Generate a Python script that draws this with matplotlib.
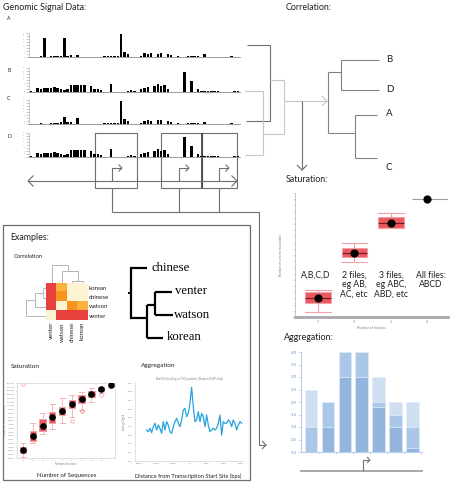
import numpy as np
import matplotlib
matplotlib.use('Agg')
import matplotlib.pyplot as plt
from matplotlib.colors import ListedColormap

W, H = 450, 482
plt.rcParams['font.family'] = ['Lato', 'DejaVu Sans']

# ---------------- data ----------------
track_labels = ['A', 'B', 'C', 'D']
track_a = [0, 0, 0, 1.5, 19, 0, 1, 1, 1.5, 1.5, 19, 1.5, 2, 0, 2.5, 0, 0, 0, 0, 0,
           0, 0, 1.5, 1.5, 1.5, 1.5, 1.5, 23, 5, 3, 0, 0, 0, 1, 4, 3, 4.5, 0, 3.5, 4,
           0, 3, 2, 0, 1, 0, 0, 1.5, 1.5, 1.5, 1.5, 0, 3.5, 0, 0, 0, 0, 0, 0, 0,
           1.5, 0, 0]
track_b = [1.5, 0, 4, 3, 4, 4, 4, 5, 4, 3, 2, 3, 7, 7, 7, 7, 7, 0, 6, 3,
           3, 2, 0, 0, 8, 0, 0, 0, 0, 1, 2, 1, 0, 3, 4, 5, 0, 6, 8, 6,
           7, 3, 0, 0, 0, 0, 20, 0, 11, 0, 3, 1.5, 1.5, 1.5, 1.5, 1.5, 1.5, 0, 0, 0,
           0, 1, 1]
track_c = [0, 0, 0, 1.5, 0, 0, 1, 1.5, 1.5, 2, 7, 2, 2, 0, 6, 0, 0, 0, 0, 0,
           0, 0, 1.5, 1.5, 1.5, 1.5, 1.5, 23, 5, 3, 0, 0, 0, 1, 3, 4, 3, 0, 4, 3.5,
           0, 3, 2, 0, 1, 0, 0, 1.5, 1.5, 1.5, 1.5, 0, 2.5, 0, 0, 0, 0, 0, 0, 0,
           1.5, 0, 0]
track_d = [1.5, 0, 4, 3, 4, 4, 4, 5, 4, 3, 2, 3, 7, 7, 7, 7, 7, 0, 6, 3,
           3, 2, 0, 0, 8, 0, 0, 0, 0, 1, 2, 1, 0, 3, 4, 5, 0, 6, 8, 6,
           7, 3, 0, 0, 0, 0, 20, 0, 11, 0, 3, 1.5, 1.5, 1.5, 1.5, 1.5, 1.5, 0, 0, 0,
           0, 1, 1]

dendro_labels = ['B', 'D', 'A', 'C']

# saturation (files)
sat_pos = [1, 2, 3, 4]
sat_whislo = [4, 44, 72, 95]
sat_q1 = [11, 48, 72, 95]
sat_med = [15, 52, 76, 95]
sat_q3 = [20, 56, 81, 95]
sat_whishi = [22, 60, 84, 95]
sat_labels = ['A,B,C,D', '2 files,\neg AB,\nAC, etc', '3 files,\neg ABC,\nABD, etc', 'All files:\nABCD']

# aggregation (bars)
agg_light = [2.5, 2.0, 4.0, 4.0, 3.0, 2.0, 2.0]
agg_mid = [1.0, 2.0, 4.0, 4.0, 2.0, 1.5, 1.0]
agg_dark = [0.0, 1.0, 3.0, 3.0, 1.8, 1.0, 0.15]
agg_yticks = [0.0, 0.5, 1.0, 1.5, 2.0, 2.5, 3.0, 3.5, 4.0]

# example correlation heatmap
hm_rows = ['korean', 'chinese', 'watson', 'venter']
hm_cols = ['venter', 'watson', 'chinese', 'korean']
hm_vals = [[3, 1, 0, 0],
           [3, 2, 0, 0],
           [3, 0, 2, 1],
           [0, 3, 3, 3]]
tree_labels = ['chinese', 'venter', 'watson', 'korean']

# example saturation (sequences)
ex_pos = [1, 2, 3, 4, 5, 6, 7, 8, 9, 10]
ex_whislo = [1, 20, 32, 39, 47, 55, 64, 75, 87, 97]
ex_q1 = [7, 23, 36, 47, 57, 67, 73, 81, 89, 97]
ex_med = [11, 29, 43, 55, 63, 72, 79, 85, 92, 97]
ex_q3 = [15, 36, 52, 61, 68, 77, 84, 89, 95, 97]
ex_whishi = [20, 47, 60, 72, 80, 84, 88, 93, 95, 97]
ex_fliers = [[99], [], [], [], [], [50], [63, 63], [], [84], []]

# example aggregation line
agg_line_start, agg_line_step = -5100, 196
agg_line = [0.0358, 0.0338, 0.0377, 0.0327, 0.0396, 0.0435, 0.0358, 0.0415, 0.0377, 0.0319,
            0.0454, 0.0358, 0.0454, 0.0415, 0.0338, 0.0319, 0.0396, 0.0454, 0.0492, 0.0435,
            0.0396, 0.0473, 0.0588, 0.0608, 0.0512, 0.0550, 0.0665, 0.0850, 0.0627, 0.0454,
            0.0473, 0.0569, 0.0454, 0.0550, 0.0512, 0.0396, 0.0531, 0.0415, 0.0338, 0.0358,
            0.0377, 0.0358, 0.0377, 0.0435, 0.0531, 0.0300, 0.0454, 0.0435, 0.0435, 0.0473,
            0.0454, 0.0396, 0.0473, 0.0435, 0.0358, 0.0415, 0.0454, 0.0435]

# ---------------- drawing ----------------
DK = '#6d6e71'
LT = '#c4c6c8'
TXT = '#231f20'

fig = plt.figure(figsize=(W / 100, H / 100), dpi=100)
ov = fig.add_axes([0, 0, 1, 1], zorder=0)
ov.set_xlim(0, W)
ov.set_ylim(H, 0)
ov.axis('off')


def fbox(x0, y0, x1, y1):
    return [x0 / W, 1 - y1 / H, (x1 - x0) / W, (y1 - y0) / H]


def line(xs, ys, c=DK, lw=0.8, z=2):
    ov.plot(xs, ys, color=c, lw=lw, solid_capstyle='butt', solid_joinstyle='miter', zorder=z)


def chev(x, y, d, s=4, c=DK, lw=0.8):
    if d == 'r':
        xs, ys = [x - s, x, x - s], [y - s, y, y + s]
    elif d == 'l':
        xs, ys = [x + s, x, x + s], [y - s, y, y + s]
    else:
        xs, ys = [x - s, x, x + s], [y - s, y, y - s]
    line(xs, ys, c, lw)


def txt(x, y, s, size=6.4, ha='left', va='center', color=TXT, **kw):
    ov.text(x, y, s, fontsize=size, ha=ha, va=va, color=color, **kw)


# titles
txt(3, 8, 'Genomic Signal Data:')
txt(286, 8, 'Correlation:')
txt(286, 180, 'Saturation:')
txt(284, 337, 'Aggregation:')

# tracks
track_rows = [(33, 57), (68, 92), (100, 124), (133, 157)]
label_y = [19, 71, 98, 136]
for vals, (t, b), ly, name in zip([track_a, track_b, track_c, track_d], track_rows, label_y, track_labels):
    ax = fig.add_axes(fbox(29, t, 240, b))
    ax.patch.set_alpha(0)
    ax.bar(np.arange(len(vals)), vals, width=0.75, color='black')
    ax.set_xlim(-0.6, len(vals) - 0.4)
    ax.set_ylim(0, 24)
    for s in ['top', 'right']:
        ax.spines[s].set_visible(False)
    ax.spines['bottom'].set_color('#8a8c8e')
    ax.spines['bottom'].set_linewidth(0.6)
    ax.spines['left'].set_color('#9d9fa2')
    ax.spines['left'].set_linewidth(0.4)
    ax.set_xticks([])
    ax.set_yticks(np.arange(0, 25, 3))
    ax.tick_params(axis='y', length=2, width=0.4, color='#9d9fa2', labelsize=1.4,
                   labelcolor='#9d9fa2', pad=0.5)
    txt(7, ly, name, size=3.6)

# boxes around TSS regions
line([95, 137, 137, 95, 95], [133, 133, 188, 188, 133])
line([161, 202, 202, 161, 161], [133, 133, 188, 188, 133])
line([202, 237, 237, 202], [133, 133, 188, 188])
line([202, 202], [133, 188], c='#414042', lw=1.2)
# chromosome line
line([28, 237], [181, 181])
chev(28, 181, 'l', s=5.5)
chev(237, 181, 'r', s=5.5)
for x in [112, 179, 219]:
    line([x, x, x + 9], [181, 168, 168])
    chev(x + 10, 168, 'r', s=3.5)
    line([x, x], [188, 212])
line([112, 259, 259, 259], [212, 212, 212, 445])
line([259, 266], [445, 445])
chev(266, 445, 'r', s=4)

# dendrogram (clustering) between tracks
line([247, 270, 270, 246], [45, 45, 121, 121], c=DK)
line([245, 263, 263, 245], [91, 91, 155, 155], c=LT)
line([270, 284], [80, 80], c=LT)
line([263, 284], [134, 134], c=LT)
line([284, 284], [80, 134], c=LT)
line([284, 327], [101, 101], c=LT)
chev(327, 101, 'r', s=5, c=LT)
line([302, 302], [101, 170], c=DK)
chev(302, 170, 'd', s=5, c=DK)

# resulting tree
TC = '#808285'
line([328, 328], [72, 133], c=TC)
line([328, 341], [72, 72], c=TC)
line([341, 341], [60, 90], c=TC)
line([341, 379], [60, 60], c=TC)
line([341, 379], [90, 90], c=TC)
line([328, 355], [133, 133], c=TC)
line([355, 355], [115, 158], c=TC)
line([355, 377], [115, 115], c=TC)
line([355, 377], [158, 158], c=TC)
for lab, y in zip(dendro_labels, [60, 89, 114, 167]):
    txt(386, y, lab, size=7)

# saturation chart (top right)
ax = fig.add_axes(fbox(295, 193, 448, 317))
ax.patch.set_alpha(0)
stats = [dict(whislo=sat_whislo[i], q1=sat_q1[i], med=sat_med[i], q3=sat_q3[i],
              whishi=sat_whishi[i]) for i in range(3)]
bw = [0.74, 0.69, 0.72]
ax.bxp(stats, positions=sat_pos[:3], widths=bw, capwidths=bw, patch_artist=True,
       showfliers=False,
       boxprops=dict(facecolor='#e9585d', edgecolor='#f3a3a7', lw=0.8),
       whiskerprops=dict(color='#f3a3a7', lw=0.8),
       capprops=dict(color='#f3a3a7', lw=0.8),
       medianprops=dict(color='#6e1a1d', lw=0.8))
ax.hlines(sat_med[3], sat_pos[3] - 0.4, sat_pos[3] + 0.62, color='#9d9fa2', lw=0.8)
ax.scatter(sat_pos, sat_med, s=24, color='black', zorder=5)
ax.set_xlim(0.367, 4.58)
ax.set_ylim(0, 100)
for s in ['top', 'right']:
    ax.spines[s].set_visible(False)
ax.spines['bottom'].set_color('#a7a9ac')
ax.spines['bottom'].set_linewidth(2)
ax.spines['left'].set_color('#bcbec0')
ax.spines['left'].set_linewidth(0.6)
ax.set_xticks(sat_pos)
ax.set_xticklabels([str(p) for p in sat_pos])
ax.set_yticks(np.arange(0, 101, 5))
ax.set_yticklabels([])
ax.tick_params(axis='x', length=0, labelsize=2.4, labelcolor='#808285', pad=2)
ax.tick_params(axis='y', length=1.5, width=0.4, color='#bcbec0')
ax.set_xlabel('Number of features', fontsize=2.4, color='#808285', labelpad=1.5)
ax.set_ylabel('Number of covered nucleotides', fontsize=2.2, color='#808285', labelpad=4)
for lab, x in zip(sat_labels, [316, 354, 391, 431]):
    txt(x, 271, lab, size=6.2, ha='center', va='top', linespacing=1.05)

# aggregation bars (bottom right)
ax = fig.add_axes(fbox(301, 352, 422, 452))
ax.patch.set_alpha(0)
xb = np.arange(len(agg_light))
ax.bar(xb, agg_light, width=0.74, color='#cddff1', edgecolor='#e4eef8', lw=0.5)
ax.bar(xb, agg_mid, width=0.74, color='#abc7e8', edgecolor='#e4eef8', lw=0.5)
ax.bar(xb, agg_dark, width=0.74, color='#93b5de', edgecolor='#e4eef8', lw=0.5)
ax.set_xlim(-0.59, 6.56)
ax.set_ylim(0, 4.0)
for s in ['top', 'right']:
    ax.spines[s].set_visible(False)
for s in ['left', 'bottom']:
    ax.spines[s].set_color('#b8cde8')
    ax.spines[s].set_linewidth(0.8)
ax.set_yticks(agg_yticks)
ax.set_yticklabels([f'{v:.1f}' for v in agg_yticks])
ax.set_xticks(xb + 0.5)
ax.set_xticklabels([])
ax.tick_params(axis='y', length=2, width=0.5, color='#b8cde8', labelsize=3.2,
               labelcolor='#6f95c7', pad=1)
ax.tick_params(axis='x', length=1.5, width=0.5, color='#b8cde8')
line([300, 423], [471, 471], c='#a7a9ac', lw=1.4)
line([363, 363, 369], [471, 460, 460], c=DK, lw=0.8)
chev(370, 460, 'r', s=3)

# ---------------- examples panel ----------------
line([3, 250, 250, 3, 3], [225, 225, 480, 480, 225], c=DK, lw=0.9)
txt(10, 238, 'Examples:')
txt(14, 257, 'Correlation', size=4.2)

ax = fig.add_axes(fbox(46, 283, 88, 320))
cmap = ListedColormap(['#fdf5d2', '#fbb33f', '#f7941d', '#e8403c'])
ax.imshow(np.array(hm_vals), cmap=cmap, aspect='auto', vmin=-0.5, vmax=3.5,
          interpolation='nearest')
ax.axis('off')
for lab, y in zip(hm_rows, [288, 297.5, 307, 316]):
    txt(89, y, lab, size=4.4)
for lab, x in zip(hm_cols, [51.5, 62, 72, 82.5]):
    txt(x, 322, lab, size=4.4, ha='center', va='top', rotation=90)
HC = '#a7a9ac'
# top dendrogram
line([51.5, 51.5, 68, 68], [283, 265, 265, 271], c=HC, lw=0.6)
line([62, 62, 77.5, 77.5], [283, 271, 271, 281], c=HC, lw=0.6)
line([72, 72, 82.5, 82.5], [283, 281, 281, 283], c=HC, lw=0.6)
# left dendrogram
line([46, 43, 43, 46], [288, 288, 297.5, 297.5], c=HC, lw=0.6)
line([43, 35, 35, 46], [292.7, 292.7, 307, 307], c=HC, lw=0.6)
line([35, 26, 26, 46], [300, 300, 316, 316], c=HC, lw=0.6)

# serif tree
line([128, 131], [293, 293], c='black', lw=1.4)
line([147, 131, 131, 147], [268, 268, 318, 318], c='black', lw=1.6)
line([147, 147], [305, 338], c='black', lw=1.6)
line([147, 163], [338, 338], c='black', lw=1.6)
line([147, 155], [305, 305], c='black', lw=1.6)
line([155, 155], [292, 315], c='black', lw=1.6)
line([155, 172], [292, 292], c='black', lw=1.6)
line([155, 173], [315, 315], c='black', lw=1.6)
for lab, (x, y) in zip(tree_labels, [(152, 268), (175, 291), (174, 315), (167, 337)]):
    ov.text(x, y, lab, fontsize=9.2, family='Liberation Serif', ha='left', va='center', color='black')

txt(11, 366, 'Saturation', size=4.6)
txt(141, 365, 'Aggregation', size=4.6)

# example saturation boxplot
ax = fig.add_axes(fbox(17, 383, 115, 458))
ax.set_facecolor('white')
estats = [dict(whislo=ex_whislo[i], q1=ex_q1[i], med=ex_med[i], q3=ex_q3[i],
               whishi=ex_whishi[i], fliers=ex_fliers[i]) for i in range(9)]
ax.bxp(estats, positions=ex_pos[:9], widths=0.65, capwidths=0.5, patch_artist=True,
       boxprops=dict(facecolor='#e9585d', edgecolor='#f19a9e', lw=0.6),
       whiskerprops=dict(color='#f5b3b6', lw=0.7),
       capprops=dict(color='#f5b3b6', lw=0.7),
       medianprops=dict(color='#7a1f22', lw=0.6),
       flierprops=dict(marker='o', markersize=2.5, markerfacecolor='none',
                       markeredgecolor='#f19a9e', markeredgewidth=0.5))
ax.scatter(ex_pos, ex_med, s=14, color='black', zorder=5)
ax.set_xlim(0.39, 10.41)
ax.set_ylim(0, 100)
for s in ax.spines.values():
    s.set_color('#d1d3d4')
    s.set_linewidth(0.5)
ax.set_xticks(ex_pos)
ax.set_yticks(np.arange(0, 101, 5))
ax.yaxis.set_major_formatter(matplotlib.ticker.FuncFormatter(lambda v, p: f'{int(30000 + v * 1000):,}'))
ax.tick_params(length=1, width=0.3, color='#bcbec0', labelsize=1.6, labelcolor='#808285', pad=0.5)
ax.set_xlabel('Number of features', fontsize=1.8, color='#808285', labelpad=1)
ax.set_ylabel('Number of covered nucleotides', fontsize=1.6, color='#808285', labelpad=1)
txt(67, 475, 'Number of Sequences', size=4.4, ha='center')

# example aggregation line
ax = fig.add_axes(fbox(135, 383, 243, 461))
ax.patch.set_alpha(0)
xl = agg_line_start + agg_line_step * np.arange(len(agg_line))
ax.plot(xl, agg_line, color='#27a3dd', lw=0.9)
ax.set_xlim(-6470, 6235)
ax.set_ylim(0, 0.09)
for s in ['top', 'right']:
    ax.spines[s].set_visible(False)
for s in ['left', 'bottom']:
    ax.spines[s].set_color('#d1d3d4')
    ax.spines[s].set_linewidth(0.5)
ax.set_yticks(np.arange(0, 0.091, 0.01))
ax.set_xticks([-6000, -4000, -2000, 0, 2000, 4000, 6000])
ax.tick_params(length=1, width=0.3, color='#bcbec0', labelsize=1.7, labelcolor='#808285', pad=0.8)
ax.set_ylabel('Average Signal', fontsize=1.8, color='#808285', labelpad=1)
ax.set_title('Baf155 binding vs TSS position (Human ChIP-chip)', fontsize=2.2, color='#808285', pad=2)
txt(188, 476, 'Distance from Transcription Start Site (bps)', size=4.1, ha='center')

fig.savefig('out.png', dpi=100)
